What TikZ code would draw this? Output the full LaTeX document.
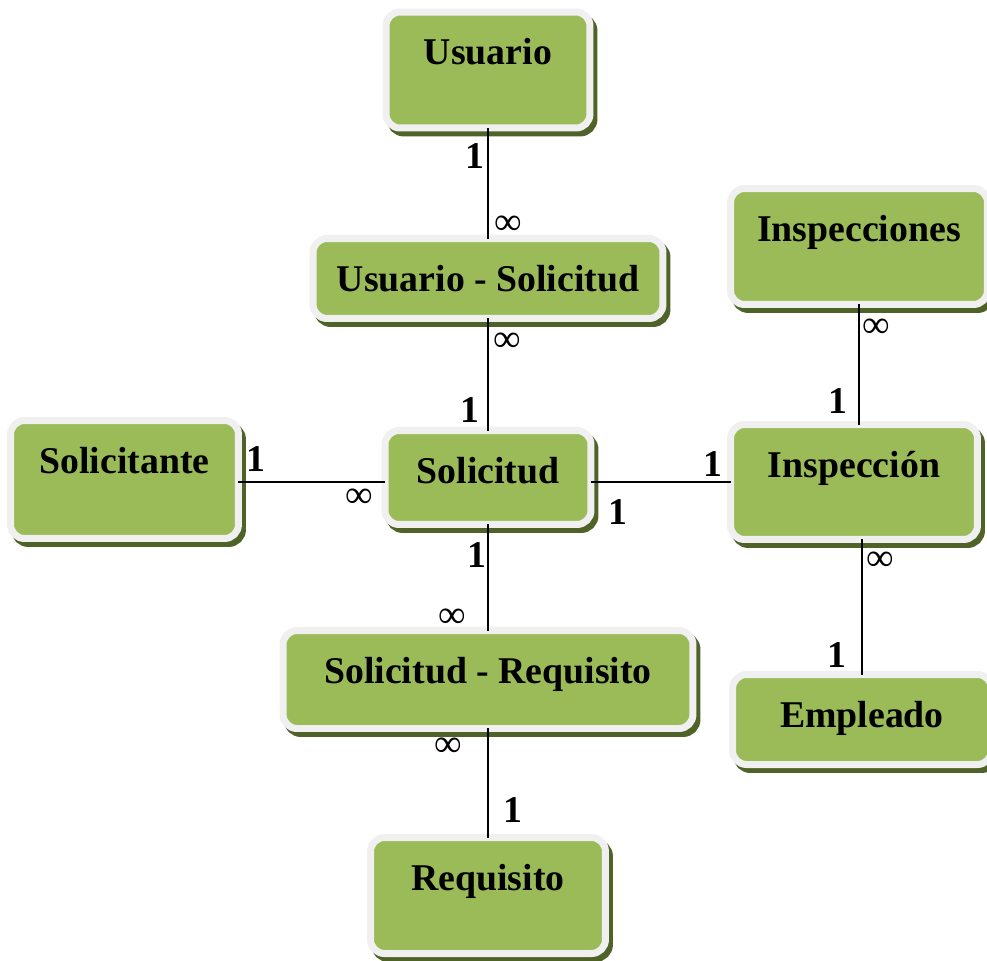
\documentclass[tikz,border=0pt]{standalone}
\usepackage{fontspec}
\setmainfont{Liberation Serif}
\usetikzlibrary{shadows}

\definecolor{boxgreen}{HTML}{9BBB59}
\definecolor{boxrim}{HTML}{F0F0F0}
\definecolor{boxshade}{HTML}{4F6228}

\begin{document}
\begin{tikzpicture}[x=0.02cm,y=-0.02cm,
  entity/.style={rectangle, rounded corners=0.28cm, fill=boxgreen, draw=boxrim, line width=0.14cm,
    drop shadow={shadow xshift=0.08cm, shadow yshift=-0.1cm, fill=boxshade, draw=boxshade, opacity=1},
    inner xsep=0pt, inner ysep=0pt, outer sep=0pt, text height=1.05cm,
    font=\fontsize{21.5}{24}\selectfont\bfseries},
  link/.style={line width=0.9pt},
  one/.style={anchor=base, inner sep=0pt, font=\fontsize{21.5}{24}\selectfont\bfseries},
  many/.style={inner sep=0pt, font=\fontsize{22}{24}\selectfont}
]
\useasboundingbox (0,0) rectangle (987,960);

%entities
\node[entity, minimum width=4.08cm, text depth=1.27cm] (usuario) at (488,70) {Usuario};
\node[entity, minimum width=7.00cm, text depth=0.55cm] (ususol) at (488,278.5) {Usuario - Solicitud};
\node[entity, minimum width=5.14cm, text depth=1.27cm] (inspecciones) at (859,246.5) {Inspecciones};
\node[entity, minimum width=4.56cm, text depth=1.31cm] (solicitante) at (124.5,479.5) {Solicitante};
\node[entity, minimum width=4.12cm, text depth=0.83cm] (solicitud) at (488,477.5) {Solicitud};
\node[entity, minimum width=4.94cm, text depth=1.25cm] (inspeccion) at (854,482) {Inspección};
\node[entity, minimum width=8.20cm, text depth=0.91cm] (solreq) at (488,679.5) {Solicitud - Requisito};
\node[entity, minimum width=5.18cm, text depth=0.75cm] (empleado) at (862,719.5) {Empleado};
\node[entity, minimum width=4.70cm, text depth=1.27cm] (requisito) at (488,895.5) {Requisito};

%links
\draw[link] (usuario) -- (ususol);
\draw[link] (ususol) -- (solicitud);
\draw[link] (solicitud) -- (solreq);
\draw[link] (solreq) -- (requisito);
\draw[link] (solicitante.east |- inspeccion.west) -- (solicitud.west |- inspeccion.west);
\draw[link] (solicitud.east |- inspeccion.west) -- (inspeccion.west);
\draw[link] (inspecciones.south) -- (inspecciones.south |- inspeccion.north);
\draw[link] (empleado.north |- inspeccion.south) -- (empleado.north);

%cardinalities
\node[one] (c1) at (475,168) {1};
\node[many] (m1) at (508,225) {∞};
\node[many] (m2) at (507,342) {∞};
\node[one] (c2) at (470,422) {1};
\node[one] (c3) at (256,471) {1};
\node[many] (m3) at (359,498) {∞};
\node[one] (c4) at (713,476) {1};
\node[one] (c5) at (618,524) {1};
\node[many] (m4) at (876,328) {∞};
\node[one] (c6) at (838,413) {1};
\node[many] (m5) at (880,561) {∞};
\node[one] (c7) at (837,667) {1};
\node[one] (c8) at (477,567) {1};
\node[many] (m6) at (452,618) {∞};
\node[many] (m7) at (448,747) {∞};
\node[one] (c9) at (513,822) {1};
\end{tikzpicture}
\end{document}
